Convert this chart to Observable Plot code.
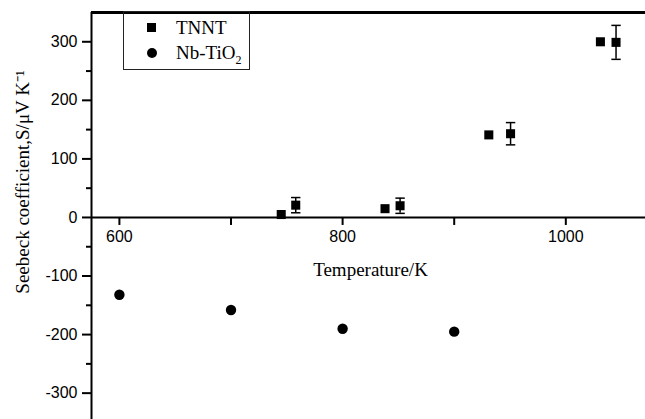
<!DOCTYPE html>
<html><head><meta charset="utf-8">
<script src="https://cdn.jsdelivr.net/npm/d3@7"></script>
<script src="https://cdn.jsdelivr.net/npm/@observablehq/plot@0.6"></script>
<style>
html,body{margin:0;padding:0;background:#fff;}
#wrap{position:relative;width:645px;height:419px;overflow:hidden;}
#legend{position:absolute;left:123px;top:11px;width:127px;height:59px;border:1px solid #222;box-sizing:border-box;font-family:"Liberation Serif",serif;font-size:19px;color:#000;}
#legend .sym{position:absolute;background:#000;}
#legend .lab{position:absolute;left:52px;line-height:19px;white-space:nowrap;}
#legend sub{font-size:12px;vertical-align:-5px;line-height:0;}
</style></head>
<body>
<div id="wrap">
  <div id="chart"></div>
  <div id="legend">
    <div class="sym" style="left:23px;top:11px;width:9px;height:9px;"></div>
    <div class="lab" style="top:6px;">TNNT</div>
    <div class="sym" style="left:23px;top:36px;width:10px;height:10px;border-radius:50%;"></div>
    <div class="lab" style="top:31px;">Nb-TiO<sub>2</sub></div>
  </div>
</div>
<script>
// ---- data ----
const tnntT = [745, 838, 931, 1031];
const tnntS = [5, 15, 141, 300];
const tnntErrT = [758, 851.5, 950.5, 1045];
const tnntErrS = [21, 20, 143, 299];
const tnntErrE = [13, 13, 19, 29];
const nbT = [600, 700, 800, 900];
const nbS = [-132, -158, -190, -195];
const xTicks = [600, 700, 800, 900, 1000];
const xTickLabels = ["600", "", "800", "", "1000"];
const yTicks = [-300, -200, -100, 0, 100, 200, 300];
const yMinorTicks = [-250, -150, -50, 50, 150, 250];
const xTitle = "Temperature/K";
const yTitle = "Seebeck coefficient,S/\u03BCV K\u207B\u00B9";

// ---- layout ----
const W = 645, H = 419, mL = 91, mR = 0, mT = 12, mB = 0;
const xDomain = [575, 1071.4], yDomain = [-345, 350];

const tnnt = tnntT.map((t, i) => ({T: t, S: tnntS[i]}));
const tnntErr = tnntErrT.map((t, i) => ({T: t, S: tnntErrS[i], e: tnntErrE[i]}));
const nb = nbT.map((t, i) => ({T: t, S: nbS[i]}));

const yScale = Plot.scale({y: {domain: yDomain, range: [H - mB, mT]}});
const axisDy = yScale.apply(0) - (H - mB);

const capSymbol = {draw(ctx, size) { const r = Math.sqrt(size / Math.PI); ctx.moveTo(-r, 0); ctx.lineTo(r, 0); }};

const plot = Plot.plot({
  width: W, height: H, marginLeft: mL, marginRight: mR, marginTop: mT, marginBottom: mB,
  x: {domain: xDomain},
  y: {domain: yDomain},
  style: {fontFamily: "Liberation Sans", fontSize: "16px", color: "#000", background: "#fff", overflow: "visible"},
  marks: [
    Plot.ruleY([0], {strokeWidth: 2}),
    Plot.ruleX([xDomain[0]], {strokeWidth: 2}),
    Plot.ruleY([yDomain[1]], {strokeWidth: 3}),
    Plot.axisX(xTicks, {anchor: "bottom", dy: axisDy, tickSize: 8, tickPadding: 5, strokeWidth: 2, label: null, fontSize: 16,
      tickFormat: d => xTickLabels[xTicks.indexOf(d)]}),
    Plot.axisY(yTicks, {anchor: "left", tickSize: 9, tickPadding: 5, strokeWidth: 2, label: null, fontSize: 16,
      tickFormat: d => String(d)}),
    Plot.axisY(yMinorTicks, {anchor: "left", tickSize: 5, strokeWidth: 2, label: null, tickFormat: () => ""}),
    Plot.ruleX(tnntErr, {x: "T", y1: d => d.S - d.e, y2: d => d.S + d.e, strokeWidth: 1.5}),
    Plot.dot(tnntErr, {x: "T", y: d => d.S + d.e, symbol: capSymbol, r: 4.7, stroke: "#000", strokeWidth: 1.5, fill: "none"}),
    Plot.dot(tnntErr, {x: "T", y: d => d.S - d.e, symbol: capSymbol, r: 4.7, stroke: "#000", strokeWidth: 1.5, fill: "none"}),
    Plot.dot(tnnt, {x: "T", y: "S", symbol: "square", r: 5.1, fill: "#000", stroke: "none"}),
    Plot.dot(tnntErr, {x: "T", y: "S", symbol: "square", r: 5.1, fill: "#000", stroke: "none"}),
    Plot.dot(nb, {x: "T", y: "S", symbol: "circle", r: 5.2, fill: "#000", stroke: "none"}),
    Plot.text([xTitle], {frameAnchor: "bottom", text: d => d, dy: axisDy + 52, dx: 2, lineAnchor: "middle", textAnchor: "middle",
      fontFamily: "Liberation Serif", fontSize: 19, fill: "#000"}),
    Plot.text([yTitle], {frameAnchor: "left", text: d => d, rotate: -90, dx: -69, dy: -34, lineAnchor: "middle", textAnchor: "middle",
      fontFamily: "Liberation Serif", fontSize: 19, fill: "#000"})
  ]
});
document.getElementById("chart").appendChild(plot);
</script>
</body></html>
